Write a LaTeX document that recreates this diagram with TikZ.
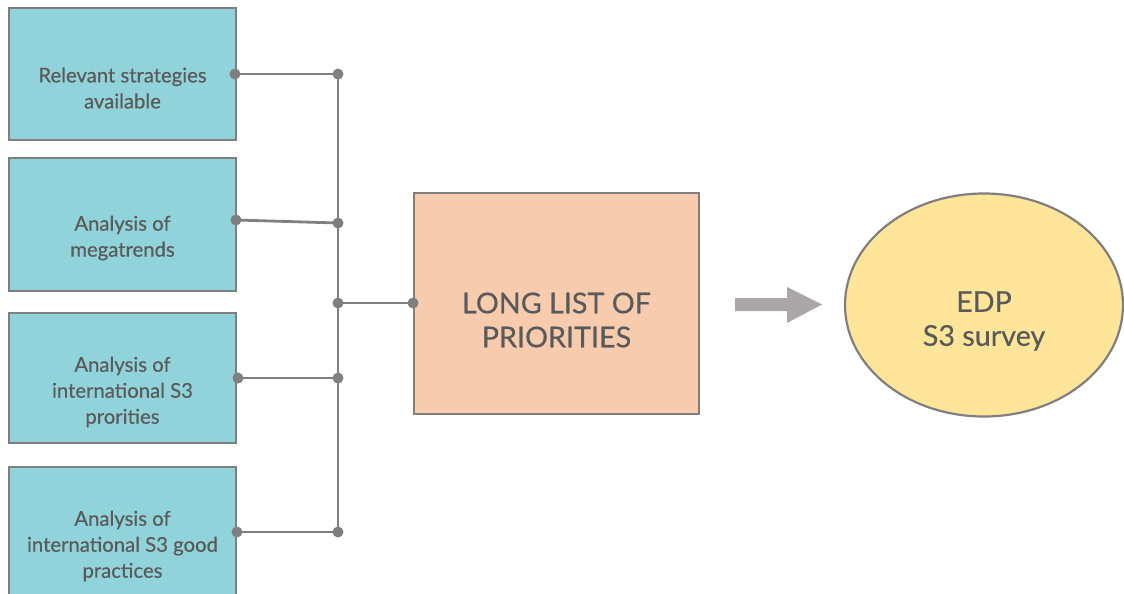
\documentclass[tikz,border=0pt]{standalone}
\usepackage{fontspec}
\setmainfont{Lato}[FakeBold=0.4]
\usetikzlibrary{shapes.geometric,arrows.meta}
\definecolor{boxblue}{HTML}{91D3DB}
\definecolor{boxorange}{HTML}{F7CBAE}
\definecolor{ellyellow}{HTML}{FFE599}
\definecolor{edgegray}{HTML}{7F7F7F}
\definecolor{txtgray}{HTML}{5A5A5A}
\definecolor{arrowgray}{HTML}{ABA7A7}
\tikzset{
  bluebox/.style={draw=edgegray, line width=2.2pt, fill=boxblue, minimum width=227pt, inner sep=0pt},
  smalltext/.style={text=txtgray, font=\fontsize{20.3}{26}\selectfont, align=center, inner sep=0pt},
  bigtext/.style={text=txtgray, font=\fontsize{28.7}{34}\selectfont, align=center, inner sep=0pt},
  conn/.style={draw=edgegray, line width=2.8pt},
  dot/.style={circle, fill=edgegray, minimum size=11pt, inner sep=0pt},
}
\begin{document}
\begin{tikzpicture}[x=1pt,y=-1pt]
\useasboundingbox (0,0) rectangle (1124,594);
\clip (0,0) rectangle (1124,594);
% left boxes
\node[bluebox, minimum height=132pt] (b1) at (122.5,74) {};
\node[bluebox, minimum height=133pt] (b2) at (122.5,224.5) {};
\node[bluebox, minimum height=130pt] (b3) at (122.5,378) {};
\node[bluebox, minimum height=132pt] (b4) at (122.5,533) {};
\node[smalltext] (t1) at (122.5,88) {Relevant strategies\\available};
\node[smalltext] (t2) at (122.5,238) {Analysis of\\megatrends};
\node[smalltext] (t3) at (122.5,392) {Analysis of\\international S3\\prorities};
\node[smalltext] (t4) at (122.5,546) {Analysis of\\international S3 good\\practices};
% centre box
\node[draw=edgegray, line width=2.2pt, fill=boxorange, minimum width=285pt, minimum height=221pt, inner sep=0pt] (c) at (556.5,303.5) {};
\node[bigtext] (ct) at (556.5,320) {LONG LIST OF\\PRIORITIES};
% ellipse
\node[ellipse, draw=edgegray, line width=2.2pt, fill=ellyellow, minimum width=278pt, minimum height=223pt, inner sep=0pt] (e) at (984,305) {};
\node[bigtext] (et) at (984,321) {EDP\\S3 survey};
% connectors
\coordinate (d1) at (235,74);
\coordinate (d2) at (236,220);
\coordinate (d3) at (238,378);
\coordinate (d4) at (237,532);
\coordinate (j1) at (338,74);
\coordinate (j2) at (338,223);
\coordinate (j3) at (338,378);
\coordinate (j4) at (338,532);
\coordinate (jc) at (338,303);
\coordinate (dc) at (413,303);
\draw[conn] (d1) -- (j1);
\draw[conn] (d2) -- (j2);
\draw[conn] (d3) -- (j3);
\draw[conn] (d4) -- (j4);
\draw[conn] (j1) -- (j4);
\draw[conn] (jc) -- (dc);
\foreach \p in {d1,d2,d3,d4,j1,j2,j3,j4,jc,dc} \node[dot] at (\p) {};
% arrow
\fill[arrowgray] (735,298) -- (787,298) -- (787,287) -- (822,304.5) -- (787,323) -- (787,311) -- (735,311) -- cycle;
\end{tikzpicture}
\end{document}
